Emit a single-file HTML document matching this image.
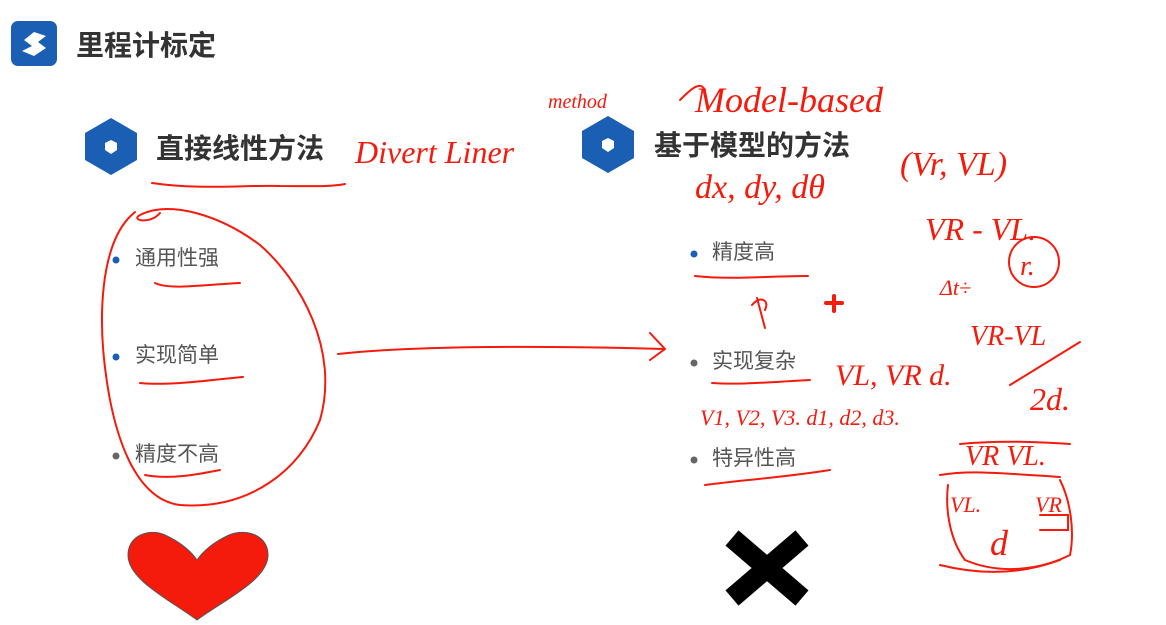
<!DOCTYPE html>
<html><head><meta charset="utf-8"><style>
html,body{margin:0;padding:0;background:#fff;width:1166px;height:625px;overflow:hidden}
svg{display:block}
.t{font-family:"Liberation Sans","Noto Sans CJK SC",sans-serif}
.h{font-family:"Liberation Serif",serif;font-style:italic;fill:#f41a0c}
</style></head><body>
<svg width="1166" height="625" viewBox="0 0 1166 625">
<!-- logo -->
<rect x="11" y="21" width="46" height="45" rx="7" fill="#1a5fb4"/>
<path d="M24 40 L34 32 L46 36 L38 42 L46 48 L34 56 L22 51 L32 46 Z" fill="#fff"/>
<text x="76" y="55" class="t" font-size="28" font-weight="bold" fill="#333">里程计标定</text>
<!-- hexes -->
<polygon points="111,118 137,133 137,160 111,175 85,160 85,133" fill="#1a5fb4"/>
<polygon points="111,140 117,143 117,150 111,154 105,150 105,143" fill="#fff"/>
<polygon points="608,116 634,131 634,158 608,173 582,158 582,131" fill="#1a5fb4"/>
<polygon points="608,138 614,141 614,148 608,152 602,148 602,141" fill="#fff"/>
<text x="156" y="158" class="t" font-size="28" font-weight="bold" fill="#333">直接线性方法</text>
<text x="654" y="155" class="t" font-size="28" font-weight="bold" fill="#333">基于模型的方法</text>
<!-- bullets -->
<g class="t" font-size="21" fill="#555">
<circle cx="116" cy="260" r="3.5" fill="#1a5fb4"/><text x="135" y="265">通用性强</text>
<circle cx="116" cy="357" r="3.5" fill="#1a5fb4"/><text x="135" y="362">实现简单</text>
<circle cx="116" cy="456" r="3.5" fill="#666"/><text x="135" y="461">精度不高</text>
<circle cx="694" cy="254" r="3.5" fill="#1a5fb4"/><text x="712" y="259">精度高</text>
<circle cx="694" cy="363" r="3.5" fill="#666"/><text x="712" y="368">实现复杂</text>
<circle cx="694" cy="460" r="3.5" fill="#666"/><text x="712" y="465">特异性高</text>
</g>
<!-- heart -->
<path d="M197 620 C170 600 128 580 128 555 C128 535 150 528 165 535 C180 542 190 550 197 560 C204 550 214 542 229 535 C246 528 268 535 268 555 C268 580 224 600 197 620 Z" fill="#f41a0c" stroke="#555" stroke-width="1"/>
<!-- X -->
<g stroke="#000" stroke-width="20"><line x1="732" y1="538" x2="802" y2="598"/><line x1="802" y1="538" x2="732" y2="598"/></g>
<!-- red annotations -->
<g fill="none" stroke="#f41a0c" stroke-width="2" stroke-linecap="round">
<path d="M152 183 C200 190 240 185 280 186 C310 186 330 187 345 184"/>
<path d="M135 212 C100 240 95 320 110 400 C120 450 140 500 180 505 C250 510 300 470 320 420 C340 350 300 280 260 245 C220 215 170 200 140 215 C130 220 150 225 160 213"/>
<path d="M155 283 C170 290 200 285 240 283"/>
<path d="M140 383 C170 386 210 380 243 377"/>
<path d="M145 475 C170 480 200 474 220 470"/>
<path d="M338 354 C420 345 560 346 665 349 M650 333 L665 349 L650 360"/>
<path d="M695 276 C730 280 770 276 808 276"/>
<path d="M712 383 C740 385 770 382 810 380"/>
<path d="M705 485 C740 480 780 478 830 470"/>
<path d="M757 298 L765 328 M752 305 C760 295 770 300 765 310"/>
<path d="M826 303 L842 303 M834 296 L834 311" stroke-width="4"/>
<circle cx="1034" cy="262" r="25"/>
<path d="M1010 385 L1080 342"/>
<path d="M960 444 C1000 440 1040 442 1070 444 M940 475 C970 470 1000 473 1060 477 M948 485 C945 510 950 540 965 560 C1000 575 1040 570 1070 555 C1075 530 1070 500 1060 480 M940 565 C980 575 1020 575 1060 560 M1040 515 L1068 515 L1068 530 L1040 530"/>
<path d="M680 100 C690 90 700 80 705 90"/>
</g>
<g class="h" font-size="34">
<text x="355" y="163" font-size="32">Divert Liner</text>
<text x="548" y="108" font-size="20">method</text>
<text x="695" y="112" font-size="36">Model-based</text>
<text x="900" y="175" font-size="34">(Vr, VL)</text>
<text x="695" y="198" font-size="34">dx, dy, dθ</text>
<text x="925" y="240" font-size="32">VR - VL.</text>
<text x="940" y="295" font-size="22">Δt÷</text>
<text x="1020" y="275" font-size="28">r.</text>
<text x="970" y="345" font-size="28">VR-VL</text>
<text x="1030" y="410" font-size="32">2d.</text>
<text x="835" y="385" font-size="30">VL, VR d.</text>
<text x="700" y="425" font-size="22">V1, V2, V3. d1, d2, d3.</text>
<text x="965" y="465" font-size="28">VR  VL.</text>
<text x="950" y="512" font-size="22">VL.</text>
<text x="1035" y="512" font-size="22">VR</text>
<text x="990" y="555" font-size="36">d</text>
</g>
</svg>
</body></html>
